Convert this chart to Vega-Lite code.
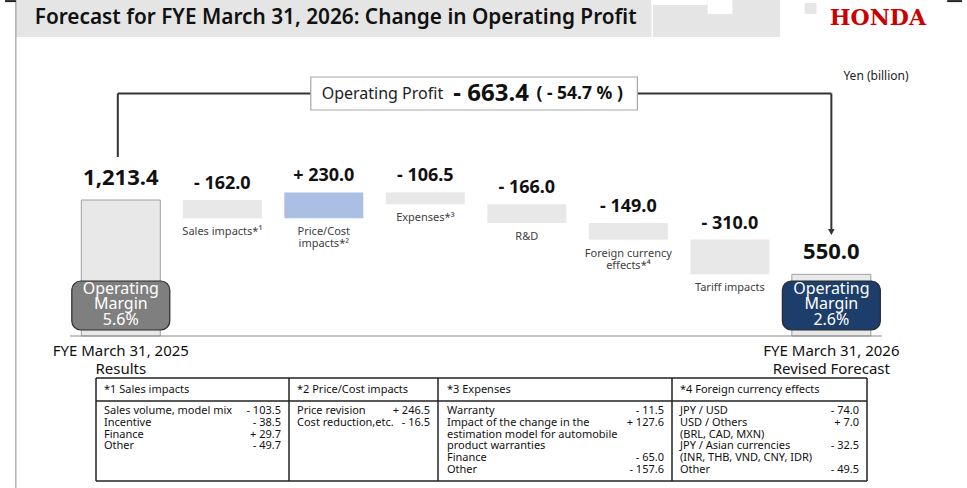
{
  "$schema": "https://vega.github.io/schema/vega-lite/v6.json",
  "width": 967,
  "height": 488,
  "padding": 0,
  "autosize": {"type": "none"},
  "background": "white",
  "config": {"view": {"stroke": null}, "font": "Noto Sans", "text": {"font": "Noto Sans"}},
  "datasets": {
    "steps": [
      {"step": 1, "name": "FYE March 31, 2025", "status": "Results", "kind": "total", "delta": 1213.4, "low": 0, "high": 1213.4, "shown": "1,213.4", "margin": "5.6%"},
      {"step": 2, "name": "Sales impacts*¹", "kind": "decrease", "delta": -162.0, "low": 1051.4, "high": 1213.4, "shown": "- 162.0"},
      {"step": 3, "name": "Price/Cost\nimpacts*²", "kind": "increase", "delta": 230.0, "low": 1051.4, "high": 1281.4, "shown": "+ 230.0"},
      {"step": 4, "name": "Expenses*³", "kind": "decrease", "delta": -106.5, "low": 1174.9, "high": 1281.4, "shown": "- 106.5"},
      {"step": 5, "name": "R&D", "kind": "decrease", "delta": -166.0, "low": 1008.9, "high": 1174.9, "shown": "- 166.0"},
      {"step": 6, "name": "Foreign currency\neffects*⁴", "kind": "decrease", "delta": -149.0, "low": 859.9, "high": 1008.9, "shown": "- 149.0"},
      {"step": 7, "name": "Tariff impacts", "kind": "decrease", "delta": -310.0, "low": 549.9, "high": 859.9, "shown": "- 310.0"},
      {"step": 8, "name": "FYE March 31, 2026", "status": "Revised Forecast", "kind": "total", "delta": 550.0, "low": 0, "high": 550.0, "shown": "550.0", "margin": "2.6%"}
    ],
    "change": [
      {"label": "Operating Profit", "change": "- 663.4", "pct": "( - 54.7 % )"}
    ],
    "table": [
      {"col": 1, "line": 0, "item": "*1 Sales impacts", "amount": ""},
      {"col": 1, "line": 1, "item": "Sales volume, model mix", "amount": "- 103.5"},
      {"col": 1, "line": 2, "item": "Incentive", "amount": "- 38.5"},
      {"col": 1, "line": 3, "item": "Finance", "amount": "+ 29.7"},
      {"col": 1, "line": 4, "item": "Other", "amount": "- 49.7"},
      {"col": 2, "line": 0, "item": "*2 Price/Cost impacts", "amount": ""},
      {"col": 2, "line": 1, "item": "Price revision", "amount": "+ 246.5"},
      {"col": 2, "line": 2, "item": "Cost reduction,etc.", "amount": "- 16.5"},
      {"col": 3, "line": 0, "item": "*3 Expenses", "amount": ""},
      {"col": 3, "line": 1, "item": "Warranty", "amount": "- 11.5"},
      {"col": 3, "line": 2, "item": "Impact of the change in the", "amount": "+ 127.6"},
      {"col": 3, "line": 3, "item": "estimation model for automobile", "amount": ""},
      {"col": 3, "line": 4, "item": "product warranties", "amount": ""},
      {"col": 3, "line": 5, "item": "Finance", "amount": "- 65.0"},
      {"col": 3, "line": 6, "item": "Other", "amount": "- 157.6"},
      {"col": 4, "line": 0, "item": "*4 Foreign currency effects", "amount": ""},
      {"col": 4, "line": 1, "item": "JPY / USD", "amount": "- 74.0"},
      {"col": 4, "line": 2, "item": "USD / Others", "amount": "+ 7.0"},
      {"col": 4, "line": 3, "item": "(BRL, CAD, MXN)", "amount": ""},
      {"col": 4, "line": 4, "item": "JPY / Asian currencies", "amount": "- 32.5"},
      {"col": 4, "line": 5, "item": "(INR, THB, VND, CNY, IDR)", "amount": ""},
      {"col": 4, "line": 6, "item": "Other", "amount": "- 49.5"}
    ],
    "rowEdges": [{"edge": 0}, {"edge": 1}, {"edge": 2}],
    "colEdges": [{"edge": 0}, {"edge": 1}, {"edge": 2}, {"edge": 3}, {"edge": 4}],
    "blank": [{}]
  },
  "layer": [
    {
      "layer": [
        {
          "data": {"name": "blank"},
          "mark": {"type": "rect", "color": "#e5e5e5"},
          "encoding": {
            "x": {"datum": -0.0335, "type": "quantitative", "axis": null, "scale": {"domain": [-0.1407, 9.287], "range": [0, 967], "nice": false, "zero": false}},
            "x2": {"datum": 7.4931},
            "y": {"datum": 2998, "type": "quantitative", "axis": null, "scale": {"domain": [-1356.2, 2997.9], "range": [488, 0], "nice": false, "zero": false}},
            "y2": {"datum": 2667.7}
          }
        },
        {
          "data": {"name": "blank"},
          "mark": {"type": "rect", "color": "#ffffff"},
          "encoding": {
            "x": {"datum": 6.2257, "type": "quantitative", "axis": null},
            "x2": {"datum": 6.7815},
            "y": {"datum": 2998, "type": "quantitative", "axis": null},
            "y2": {"datum": 2953.2}
          }
        },
        {
          "data": {"name": "blank"},
          "mark": {"type": "rect", "color": "#ffffff"},
          "encoding": {
            "x": {"datum": 6.7815, "type": "quantitative", "axis": null},
            "x2": {"datum": 7.0252},
            "y": {"datum": 2998, "type": "quantitative", "axis": null},
            "y2": {"datum": 2873}
          }
        },
        {
          "data": {"name": "blank"},
          "mark": {"type": "rule", "color": "#ffffff", "strokeWidth": 1.5},
          "encoding": {
            "x": {"datum": 6.2354, "type": "quantitative", "axis": null},
            "y": {"datum": 2998, "type": "quantitative", "axis": null},
            "y2": {"datum": 2667.7}
          }
        },
        {
          "data": {"name": "blank"},
          "mark": {"type": "rect", "color": "#e5e5e5"},
          "encoding": {
            "x": {"datum": 7.7368, "type": "quantitative", "axis": null},
            "x2": {"datum": 7.8538},
            "y": {"datum": 2971, "type": "quantitative", "axis": null},
            "y2": {"datum": 2873}
          }
        },
        {
          "data": {"name": "blank"},
          "mark": {"type": "rule", "color": "#8c8c8c", "strokeWidth": 1},
          "encoding": {
            "x": {"datum": -0.0335, "type": "quantitative", "axis": null},
            "y": {"datum": 2998, "type": "quantitative", "axis": null},
            "y2": {"datum": -1356.2}
          }
        },
        {
          "data": {"name": "blank"},
          "mark": {"type": "rule", "color": "#222222", "strokeWidth": 2},
          "encoding": {
            "x": {"datum": -0.1407, "type": "quantitative", "axis": null},
            "x2": {"datum": -0.0335},
            "y": {"datum": 2988, "type": "quantitative", "axis": null}
          }
        },
        {
          "data": {"name": "blank"},
          "mark": {"type": "rule", "color": "#222222", "strokeWidth": 2},
          "encoding": {
            "x": {"datum": 9.1409, "type": "quantitative", "axis": null},
            "x2": {"datum": 9.287},
            "y": {"datum": 2988, "type": "quantitative", "axis": null}
          }
        },
        {
          "data": {"name": "blank"},
          "mark": {"type": "text", "text": "Forecast for FYE March 31, 2026: Change in Operating Profit", "align": "left", "baseline": "middle", "fontSize": 20.8, "fontWeight": 600, "color": "#111111"},
          "encoding": {
            "x": {"datum": 0.1518, "type": "quantitative", "axis": null},
            "y": {"datum": 2837.3, "type": "quantitative", "axis": null}
          }
        },
        {
          "data": {"name": "blank"},
          "mark": {"type": "text", "text": "HONDA", "align": "center", "baseline": "middle", "fontSize": 22, "fontWeight": "bold", "font": "DejaVu Serif", "color": "#cc0000"},
          "encoding": {
            "x": {"datum": 8.4583, "type": "quantitative", "axis": null},
            "y": {"datum": 2837.3, "type": "quantitative", "axis": null}
          }
        },
        {
          "data": {"name": "steps"},
          "mark": {"type": "bar", "width": 79, "strokeWidth": 1},
          "encoding": {
            "x": {"field": "step", "type": "quantitative", "axis": null},
            "y": {"field": "low", "type": "quantitative", "axis": null},
            "y2": {"field": "high"},
            "color": {"field": "kind", "type": "nominal", "legend": null, "scale": {"domain": ["total", "decrease", "increase"], "range": ["#e8e8e8", "#e8e8e8", "#abbfe4"]}},
            "stroke": {"condition": {"test": "datum.kind === 'total'", "value": "#a0a0a0"}, "value": "transparent"}
          }
        },
        {
          "data": {"name": "blank"},
          "mark": {"type": "rule", "color": "#8a8a8a", "strokeWidth": 1.2},
          "encoding": {
            "x": {"datum": 0.5, "type": "quantitative", "axis": null},
            "x2": {"datum": 8.5},
            "y": {"datum": 0, "type": "quantitative", "axis": null}
          }
        },
        {
          "data": {"name": "steps"},
          "transform": [{"filter": "datum.kind === 'total'"}],
          "mark": {"type": "bar", "width": 98, "cornerRadius": 9, "stroke": "#2b2b2b", "strokeWidth": 1.2},
          "encoding": {
            "x": {"field": "step", "type": "quantitative", "axis": null},
            "y": {"datum": 490.7, "type": "quantitative", "axis": null},
            "y2": {"datum": 53.5},
            "color": {"condition": {"test": "datum.step === 1", "value": "#7f7f7f"}, "value": "#1d3e6b"}
          }
        },
        {
          "data": {"name": "steps"},
          "transform": [{"filter": "datum.kind === 'total'"}],
          "mark": {"type": "text", "text": "Operating", "align": "center", "baseline": "middle", "fontSize": 16, "color": "#ffffff"},
          "encoding": {
            "x": {"field": "step", "type": "quantitative", "axis": null},
            "y": {"datum": 419.3, "type": "quantitative", "axis": null}
          }
        },
        {
          "data": {"name": "steps"},
          "transform": [{"filter": "datum.kind === 'total'"}],
          "mark": {"type": "text", "text": "Margin", "align": "center", "baseline": "middle", "fontSize": 16, "color": "#ffffff"},
          "encoding": {
            "x": {"field": "step", "type": "quantitative", "axis": null},
            "y": {"datum": 285.5, "type": "quantitative", "axis": null}
          }
        },
        {
          "data": {"name": "steps"},
          "transform": [{"filter": "datum.kind === 'total'"}],
          "mark": {"type": "text", "align": "center", "baseline": "middle", "fontSize": 16, "color": "#ffffff"},
          "encoding": {
            "x": {"field": "step", "type": "quantitative", "axis": null},
            "y": {"datum": 142.8, "type": "quantitative", "axis": null},
            "text": {"field": "margin"}
          }
        },
        {
          "data": {"name": "steps"},
          "transform": [{"filter": "datum.kind !== 'total'"}],
          "mark": {"type": "text", "align": "center", "baseline": "middle", "dy": -16, "fontSize": 18, "fontWeight": "bold", "color": "#111111"},
          "encoding": {
            "x": {"field": "step", "type": "quantitative", "axis": null},
            "y": {"field": "high", "type": "quantitative", "axis": null},
            "text": {"field": "shown"}
          }
        },
        {
          "data": {"name": "steps"},
          "transform": [{"filter": "datum.kind === 'total'"}],
          "mark": {"type": "text", "align": "center", "baseline": "middle", "dy": -22, "fontSize": 22, "fontWeight": "bold", "color": "#111111"},
          "encoding": {
            "x": {"field": "step", "type": "quantitative", "axis": null},
            "y": {"field": "high", "type": "quantitative", "axis": null},
            "text": {"field": "shown"}
          }
        },
        {
          "data": {"name": "steps"},
          "transform": [{"filter": "datum.kind !== 'total'"}],
          "mark": {"type": "text", "align": "center", "baseline": "top", "dy": 8, "fontSize": 11, "lineHeight": 12, "lineBreak": "\n", "color": "#404040"},
          "encoding": {
            "x": {"field": "step", "type": "quantitative", "axis": null},
            "y": {"field": "low", "type": "quantitative", "axis": null},
            "text": {"field": "name"}
          }
        },
        {
          "data": {"name": "steps"},
          "transform": [{"filter": "datum.kind === 'total'"}],
          "mark": {"type": "text", "align": "center", "baseline": "middle", "dy": 15, "fontSize": 15, "color": "#111111"},
          "encoding": {
            "x": {"field": "step", "type": "quantitative", "axis": null},
            "y": {"datum": 0, "type": "quantitative", "axis": null},
            "text": {"field": "name"}
          }
        },
        {
          "data": {"name": "steps"},
          "transform": [{"filter": "datum.kind === 'total'"}],
          "mark": {"type": "text", "align": "center", "baseline": "middle", "dy": 33, "fontSize": 15, "color": "#111111"},
          "encoding": {
            "x": {"field": "step", "type": "quantitative", "axis": null},
            "y": {"datum": 0, "type": "quantitative", "axis": null},
            "text": {"field": "status"}
          }
        },
        {
          "data": {"name": "blank"},
          "mark": {"type": "rule", "color": "#333333", "strokeWidth": 2},
          "encoding": {
            "x": {"datum": 0.9707, "type": "quantitative", "axis": null},
            "y": {"datum": 1597.1, "type": "quantitative", "axis": null},
            "y2": {"datum": 2163.6}
          }
        },
        {
          "data": {"name": "blank"},
          "mark": {"type": "rule", "color": "#333333", "strokeWidth": 2},
          "encoding": {
            "x": {"datum": 0.9707, "type": "quantitative", "axis": null},
            "x2": {"datum": 8.0},
            "y": {"datum": 2163.6, "type": "quantitative", "axis": null}
          }
        },
        {
          "data": {"name": "blank"},
          "mark": {"type": "rule", "color": "#333333", "strokeWidth": 2},
          "encoding": {
            "x": {"datum": 8.0, "type": "quantitative", "axis": null},
            "y": {"datum": 2163.6, "type": "quantitative", "axis": null},
            "y2": {"datum": 945.8}
          }
        },
        {
          "data": {"name": "blank"},
          "mark": {"type": "point", "shape": "triangle-down", "filled": true, "size": 45, "color": "#333333", "opacity": 1},
          "encoding": {
            "x": {"datum": 8.0, "type": "quantitative", "axis": null},
            "y": {"datum": 927.9, "type": "quantitative", "axis": null}
          }
        },
        {
          "data": {"name": "blank"},
          "mark": {"type": "rect", "fill": "#ffffff", "stroke": "#a8a8a8", "strokeWidth": 1.2},
          "encoding": {
            "x": {"datum": 2.8719, "type": "quantitative", "axis": null},
            "x2": {"datum": 6.0891},
            "y": {"datum": 2310.9, "type": "quantitative", "axis": null},
            "y2": {"datum": 2016.4}
          }
        },
        {
          "data": {"name": "change"},
          "mark": {"type": "text", "align": "left", "baseline": "middle", "fontSize": 16, "color": "#222222"},
          "encoding": {
            "x": {"datum": 2.9791, "type": "quantitative", "axis": null},
            "y": {"datum": 2159.2, "type": "quantitative", "axis": null},
            "text": {"field": "label"}
          }
        },
        {
          "data": {"name": "change"},
          "mark": {"type": "text", "align": "left", "baseline": "middle", "fontSize": 24, "fontWeight": "bold", "color": "#111111"},
          "encoding": {
            "x": {"datum": 4.2758, "type": "quantitative", "axis": null},
            "y": {"datum": 2159.2, "type": "quantitative", "axis": null},
            "text": {"field": "change"}
          }
        },
        {
          "data": {"name": "change"},
          "mark": {"type": "text", "align": "left", "baseline": "middle", "fontSize": 17.5, "fontWeight": "bold", "color": "#111111"},
          "encoding": {
            "x": {"datum": 5.0947, "type": "quantitative", "axis": null},
            "y": {"datum": 2159.2, "type": "quantitative", "axis": null},
            "text": {"field": "pct"}
          }
        },
        {
          "data": {"name": "blank"},
          "mark": {"type": "text", "text": "Yen (billion)", "align": "right", "baseline": "middle", "fontSize": 12, "color": "#222222"},
          "encoding": {
            "x": {"datum": 8.7606, "type": "quantitative", "axis": null},
            "y": {"datum": 2319.8, "type": "quantitative", "axis": null}
          }
        }
      ]
    },
    {
      "layer": [
        {
          "layer": [
            {
              "data": {"name": "rowEdges"},
              "mark": {"type": "rule", "color": "#222222", "strokeWidth": 1.5},
              "encoding": {
                "x": {"datum": 0, "type": "quantitative", "axis": null, "scale": {"domain": [0, 1, 2, 3, 4], "range": [96, 289, 438, 672, 867], "nice": false, "zero": false}},
                "x2": {"datum": 4},
                "y": {"field": "edge", "type": "quantitative", "axis": null, "scale": {"domain": [0, 1, 2], "range": [378, 401, 481], "nice": false, "zero": false}}
              }
            },
            {
              "data": {"name": "colEdges"},
              "mark": {"type": "rule", "color": "#222222", "strokeWidth": 1.5},
              "encoding": {
                "x": {"field": "edge", "type": "quantitative", "axis": null},
                "y": {"datum": 0, "type": "quantitative", "axis": null},
                "y2": {"datum": 2}
              }
            }
          ]
        },
        {
          "data": {"name": "table"},
          "mark": {"type": "text", "align": "left", "baseline": "middle", "fontSize": 11, "color": "#111111"},
          "encoding": {
            "x": {"field": "col", "type": "quantitative", "axis": null, "scale": {"domain": [1, 2, 3, 4], "range": [104, 297, 447, 680], "nice": false, "zero": false}},
            "y": {"field": "line", "type": "quantitative", "axis": null, "scale": {"domain": [0, 1, 6], "range": [389.5, 411, 470], "nice": false, "zero": false}},
            "text": {"field": "item"}
          }
        },
        {
          "data": {"name": "table"},
          "mark": {"type": "text", "align": "right", "baseline": "middle", "fontSize": 11, "color": "#111111"},
          "encoding": {
            "x": {"field": "col", "type": "quantitative", "axis": null, "scale": {"domain": [1, 2, 3, 4], "range": [281, 430, 664, 859], "nice": false, "zero": false}},
            "y": {"field": "line", "type": "quantitative", "axis": null, "scale": {"domain": [0, 1, 6], "range": [389.5, 411, 470], "nice": false, "zero": false}},
            "text": {"field": "amount"}
          }
        }
      ],
      "resolve": {"scale": {"x": "independent", "y": "independent"}}
    }
  ],
  "resolve": {"scale": {"x": "independent", "y": "independent"}}
}
